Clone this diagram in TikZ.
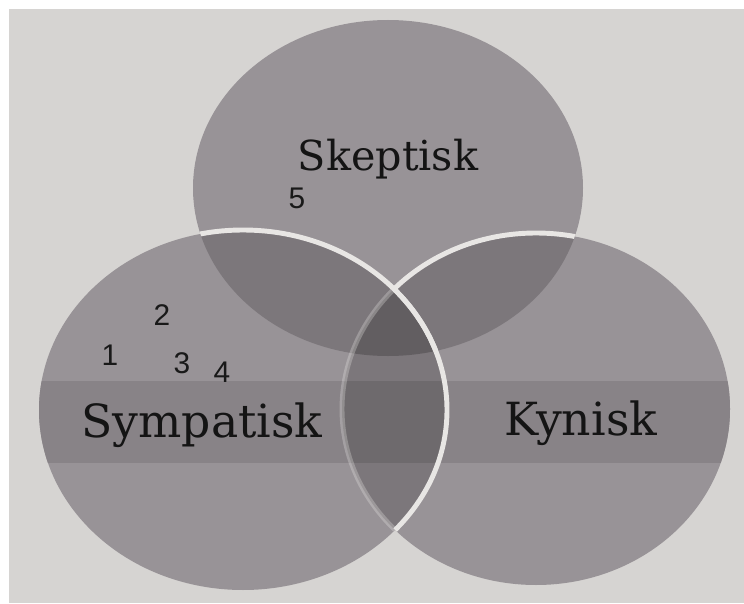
\documentclass[tikz,border=0pt]{standalone}
\usepackage{fontspec}
\setmainfont{DejaVu Serif}
\newfontfamily\handfont{Liberation Sans}
\definecolor{paper}{RGB}{214,212,210}
\definecolor{rimwhite}{RGB}{232,230,228}
\definecolor{oneset}{RGB}{152,147,151}
\definecolor{twoset}{RGB}{124,119,123}
\definecolor{threeset}{RGB}{98,94,97}
\definecolor{oneband}{RGB}{136,131,135}
\definecolor{twoband}{RGB}{110,106,109}
\definecolor{threeband}{RGB}{82,79,82}
% the three sets, in pixels of the photo (y up)
\def\topset{(388,415) ellipse [x radius=195, y radius=168]}
\def\leftset{(243,193) ellipse [x radius=204, y radius=180]}
\def\rightset{(536,194) ellipse [x radius=194, y radius=176]}
% fills of the single, double and triple regions
\newcommand{\regionfill}[3]{%
  \fill[#1] \topset;
  \fill[#1] \leftset;
  \fill[#1] \rightset;
  \begin{scope}
    \clip \topset;
    \fill[#2] \leftset;
    \fill[#2] \rightset;
  \end{scope}
  \begin{scope}
    \clip \leftset;
    \fill[#2] \rightset;
  \end{scope}
  \begin{scope}
    \clip \topset;
    \clip \leftset;
    \fill[#3] \rightset;
  \end{scope}}
\begin{document}
\begin{tikzpicture}[x=0.02cm,y=0.02cm,
    setname/.style={font=\fontsize{#1}{#1}\selectfont, text=black!92, anchor=base},
    setname/.default=23.5,
    digit/.style={font=\handfont\fontsize{17}{20}\selectfont, text=black!90},
    rim/.style={draw=rimwhite, line width=2.8pt}]
  \useasboundingbox (0,0) rectangle (744,603);
  \fill[white] (0,0) rectangle (744,603);
  \fill[paper] (9,0) rectangle (744,594);

  \regionfill{oneset}{twoset}{threeset}
  % darker band across the print
  \begin{scope}
    \clip (0,141) rectangle (744,222);
    \regionfill{oneband}{twoband}{threeband}
  \end{scope}

  % outline of the right set
  \begin{scope}
    \clip \topset;
    \begin{scope}[even odd rule]
      \clip (0,0) rectangle (744,603) \leftset;
      \draw[rim] \rightset;
    \end{scope}
  \end{scope}
  \begin{scope}
    \clip \leftset;
    \draw[rim, draw opacity=0.3] \rightset;
  \end{scope}
  % outline of the left set
  \begin{scope}
    \clip \topset;
    \draw[rim] \leftset;
  \end{scope}
  \begin{scope}
    \clip \rightset;
    \draw[rim] \leftset;
  \end{scope}

  \node[setname] (skeptisk) at (388,433) {Skeptisk};
  \node[setname=26] (sympatisk) at (202,166) {Sympatisk};
  \node[setname=26] (kynisk) at (581,168) {Kynisk};

  \node[digit] (n5) at (297,405) {5};
  \node[digit] (n1) at (110,248) {1};
  \node[digit] (n2) at (162,288) {2};
  \node[digit] (n3) at (182,240) {3};
  \node[digit] (n4) at (222,231) {4};
\end{tikzpicture}
\end{document}
